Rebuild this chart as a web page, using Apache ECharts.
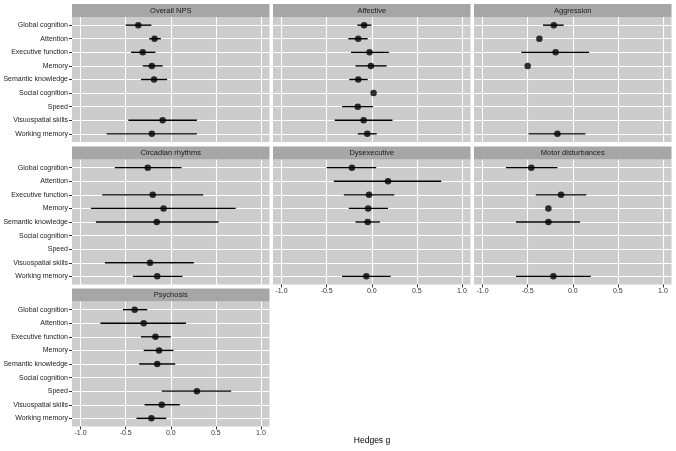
<!DOCTYPE html>
<html>
<head>
<meta charset="utf-8">
<script src="https://cdn.jsdelivr.net/npm/echarts@6/dist/echarts.min.js"></script>
<style>
  html, body { margin: 0; padding: 0; background: #fff; }
  #main { width: 676px; height: 451px; }
</style>
</head>
<body>
<div id="main"></div>
<script>
// outcome domains (y axis, top to bottom)
const categories = ['Global cognition', 'Attention', 'Executive function', 'Memory',
  'Semantic knowledge', 'Social cognition', 'Speed', 'Visuospatial skills', 'Working memory'];
const facets = ['Overall NPS', 'Affective', 'Aggression', 'Circadian rhythms',
  'Dysexecutive', 'Motor disturbances', 'Psychosis'];
const xTicks = [-1, -0.5, 0, 0.5, 1];

// Hedges g estimate and 95% CI per facet (null = not reported)
const npsEst = [-0.36, -0.18, -0.31, -0.21, -0.185, null, null, -0.09, -0.21];
const npsLo  = [-0.50, -0.24, -0.44, -0.31, -0.33, null, null, -0.47, -0.71];
const npsHi  = [-0.215, -0.11, -0.17, -0.09, -0.04, null, null, 0.29, 0.29];

const affEst = [-0.085, -0.15, -0.025, -0.01, -0.15, 0.02, -0.155, -0.09, -0.05];
const affLo  = [-0.16, -0.26, -0.23, -0.18, -0.25, null, -0.33, -0.41, -0.155];
const affHi  = [-0.005, -0.045, 0.19, 0.165, -0.045, null, 0.015, 0.23, 0.055];

const aggEst = [-0.21, -0.37, -0.19, -0.50, null, null, null, null, -0.17];
const aggLo  = [-0.33, null, -0.57, null, null, null, null, null, -0.49];
const aggHi  = [-0.10, null, 0.18, null, null, null, null, null, 0.14];

const cirEst = [-0.255, null, -0.20, -0.08, -0.155, null, null, -0.23, -0.15];
const cirLo  = [-0.62, null, -0.76, -0.885, -0.83, null, null, -0.73, -0.42];
const cirHi  = [0.12, null, 0.36, 0.72, 0.53, null, null, 0.255, 0.13];

const dysEst = [-0.22, 0.18, -0.03, -0.04, -0.045, null, null, null, -0.06];
const dysLo  = [-0.50, -0.42, -0.31, -0.255, -0.18, null, null, null, -0.33];
const dysHi  = [0.05, 0.77, 0.25, 0.18, 0.09, null, null, null, 0.21];

const motEst = [-0.46, null, -0.13, -0.27, -0.27, null, null, null, -0.215];
const motLo  = [-0.74, null, -0.41, null, -0.63, null, null, null, -0.63];
const motHi  = [-0.17, null, 0.15, null, 0.08, null, null, null, 0.20];

const psyEst = [-0.40, -0.30, -0.17, -0.13, -0.15, null, 0.29, -0.10, -0.215];
const psyLo  = [-0.53, -0.78, -0.33, -0.30, -0.35, null, -0.10, -0.29, -0.38];
const psyHi  = [-0.26, 0.17, 0.00, 0.03, 0.05, null, 0.67, 0.10, -0.05];

const facetData = [
  [npsEst, npsLo, npsHi], [affEst, affLo, affHi], [aggEst, aggLo, aggHi],
  [cirEst, cirLo, cirHi], [dysEst, dysLo, dysHi], [motEst, motLo, motHi],
  [psyEst, psyLo, psyHi]
];

// layout
const colLeft = [72, 273, 474];
const rowTop = [17, 159.5, 301.5];
const panelW = 197.5, panelH = 125, stripH = 13;
const showX = [false, false, false, false, true, true, true];
const font = 'Liberation Sans';

const grids = [], xAxes = [], yAxes = [], series = [], graphics = [];

facets.forEach(function (name, i) {
  const r = Math.floor(i / 3), c = i % 3;
  const left = colLeft[c], top = rowTop[r];
  grids.push({
    left: left, top: top, width: panelW, height: panelH,
    show: true, backgroundColor: '#cccccc', borderWidth: 0
  });
  xAxes.push({
    type: 'value', gridIndex: i, min: -1.095, max: 1.095, position: 'bottom',
    axisLine: { show: false, onZero: false },
    axisTick: { show: showX[i], customValues: xTicks, length: 3, lineStyle: { color: '#333' } },
    axisLabel: {
      show: showX[i], customValues: xTicks, margin: 3, fontSize: 7, color: '#333',
      fontFamily: font, formatter: function (v) { return v.toFixed(1); }
    },
    splitLine: { show: true, lineStyle: { color: '#ffffff', width: 1.1 } }
  });
  yAxes.push({
    type: 'value', gridIndex: i, inverse: true, min: 0.4, max: 9.6, position: 'left',
    axisLine: { show: false, onZero: false },
    axisTick: { show: c === 0, customValues: [1, 2, 3, 4, 5, 6, 7, 8, 9], length: 3, lineStyle: { color: '#333' } },
    axisLabel: {
      show: c === 0, customValues: [1, 2, 3, 4, 5, 6, 7, 8, 9], margin: 4, fontSize: 7,
      color: '#222', fontFamily: font,
      formatter: function (v) { return categories[Math.round(v) - 1] || ''; }
    },
    splitLine: { show: true, lineStyle: { color: '#ffffff', width: 1.1 } }
  });

  const est = facetData[i][0], lo = facetData[i][1], hi = facetData[i][2];
  const ciData = [], ptData = [];
  categories.forEach(function (cat, k) {
    if (lo[k] != null && hi[k] != null) ciData.push([lo[k], hi[k], k + 1]);
    if (est[k] != null) ptData.push([est[k], k + 1]);
  });
  series.push({
    type: 'custom', xAxisIndex: i, yAxisIndex: i, silent: true,
    encode: { x: [0, 1], y: 2 },
    data: ciData,
    renderItem: function (params, api) {
      const a = api.coord([api.value(0), api.value(2)]);
      const b = api.coord([api.value(1), api.value(2)]);
      return {
        type: 'line',
        shape: { x1: a[0], y1: a[1], x2: b[0], y2: b[1] },
        style: { stroke: '#000', lineWidth: 1.4 }
      };
    }
  });
  series.push({
    type: 'scatter', xAxisIndex: i, yAxisIndex: i, silent: true,
    symbol: 'circle', symbolSize: 6.5,
    itemStyle: { color: '#000' },
    data: ptData
  });

  // facet strip
  graphics.push({
    type: 'rect', shape: { x: left, y: top - stripH, width: panelW, height: stripH },
    style: { fill: '#a6a6a6' }, silent: true
  });
  graphics.push({
    type: 'text', x: left + panelW / 2, y: top - stripH / 2, silent: true,
    style: { text: name, fill: '#1a1a1a', font: '7.5px "' + font + '"', align: 'center', verticalAlign: 'middle' }
  });
});

graphics.push({
  type: 'text', x: 372, y: 441, silent: true,
  style: { text: 'Hedges g', fill: '#000', font: '8.5px "' + font + '"', align: 'center', verticalAlign: 'middle' }
});

const chart = echarts.init(document.getElementById('main'), null, { renderer: 'canvas' });
chart.setOption({
  animation: false,
  backgroundColor: '#ffffff',
  textStyle: { fontFamily: font },
  grid: grids,
  xAxis: xAxes,
  yAxis: yAxes,
  series: series,
  graphic: graphics
});
</script>
</body>
</html>
